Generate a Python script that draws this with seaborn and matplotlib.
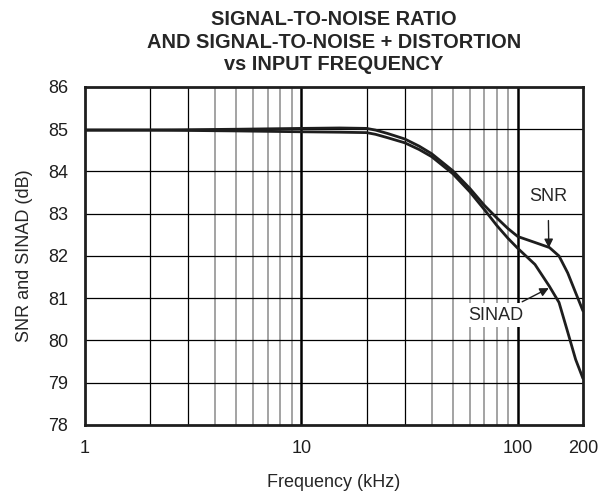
import numpy as np
import pandas as pd
import seaborn as sns
from matplotlib import pyplot as plt
from matplotlib.ticker import FixedLocator, NullFormatter

# values
freq_khz = [1, 2, 5, 10, 15, 20, 22, 25, 30, 35, 40, 50, 60, 70, 80, 90, 100, 120, 140, 155, 170, 185, 200]
snr_db = [84.98, 84.98, 85.0, 85.02, 85.03, 85.02, 84.98, 84.9, 84.77, 84.6, 84.42, 84.02, 83.6, 83.2,
          82.9, 82.65, 82.46, 82.32, 82.2, 82.0, 81.6, 81.13, 80.7]
sinad_db = [84.98, 84.98, 84.96, 84.94, 84.93, 84.92, 84.88, 84.8, 84.68, 84.52, 84.35, 83.95, 83.52, 83.1,
            82.72, 82.42, 82.18, 81.8, 81.28, 80.9, 80.2, 79.55, 79.1]
x_ticks = [1, 10, 100, 200]
y_ticks = [78, 79, 80, 81, 82, 83, 84, 85, 86]

df = pd.DataFrame({
    "freq": freq_khz * 2,
    "db": snr_db + sinad_db,
    "curve": ["SNR"] * len(freq_khz) + ["SINAD"] * len(freq_khz),
})

sns.set_style("white")
plt.rcParams["font.family"] = ["Liberation Sans", "DejaVu Sans"]

fig = plt.figure(figsize=(6.05, 4.94), dpi=100)
ax = fig.add_axes([0.1405, 0.1397, 0.8231, 0.6842])

# grid first so the curves sit on top
for v in [2, 3, 20, 30]:
    ax.axvline(v, color="black", lw=0.9, zorder=1)
for d in [1, 10]:
    for m in [4, 5, 6, 7, 8, 9]:
        ax.axvline(m * d, color="#8a8a8a", lw=1.1, zorder=1)
ax.axvline(10, color="black", lw=1.8, zorder=1)
ax.axvline(100, color="black", lw=1.8, zorder=1)
for h in y_ticks[1:-1]:
    ax.axhline(h, color="black", lw=0.9, zorder=1)

sns.lineplot(data=df, x="freq", y="db", hue="curve", palette=["#1e1e1e", "#1e1e1e"],
             linewidth=2.0, legend=False, ax=ax, zorder=3)

ax.set_xscale("log")
ax.set_xlim(1, 200)
ax.set_ylim(78, 86)
ax.xaxis.set_major_locator(FixedLocator(x_ticks))
ax.xaxis.set_minor_locator(FixedLocator([]))
ax.xaxis.set_minor_formatter(NullFormatter())
ax.set_xticks(x_ticks)
ax.set_xticklabels([str(t) for t in x_ticks])
ax.set_yticks(y_ticks)
ax.tick_params(axis="both", length=0, labelsize=13, colors="#1e1e1e")
ax.tick_params(axis="x", pad=11)
ax.tick_params(axis="y", pad=12)
for s in ax.spines.values():
    s.set_linewidth(2.0)
    s.set_color("#1e1e1e")

ax.set_xlabel("Frequency (kHz)", fontsize=13, labelpad=12)
ax.set_ylabel("SNR and SINAD (dB)", fontsize=13, labelpad=11)
ax.set_title("SIGNAL-TO-NOISE RATIO\nAND SIGNAL-TO-NOISE + DISTORTION\nvs INPUT FREQUENCY",
             fontsize=14.4, fontweight="bold", linespacing=1.25, pad=12)

# curve labels
ax.annotate("SNR", xy=(139, 82.19), xytext=(138, 83.4), ha="center", va="center", fontsize=13,
            arrowprops=dict(arrowstyle="-|>", color="#1e1e1e", lw=1.0, shrinkA=9, shrinkB=0),
            bbox=dict(boxstyle="square,pad=0.15", fc="white", ec="none"), zorder=4)
ax.annotate("SINAD", xy=(139, 81.24), xytext=(79.4, 80.6), ha="center", va="center", fontsize=13,
            arrowprops=dict(arrowstyle="-|>", color="#1e1e1e", lw=1.0, shrinkA=2, shrinkB=0),
            bbox=dict(boxstyle="square,pad=0.2", fc="white", ec="none"), zorder=4)

fig.savefig("out.png", dpi=100)
